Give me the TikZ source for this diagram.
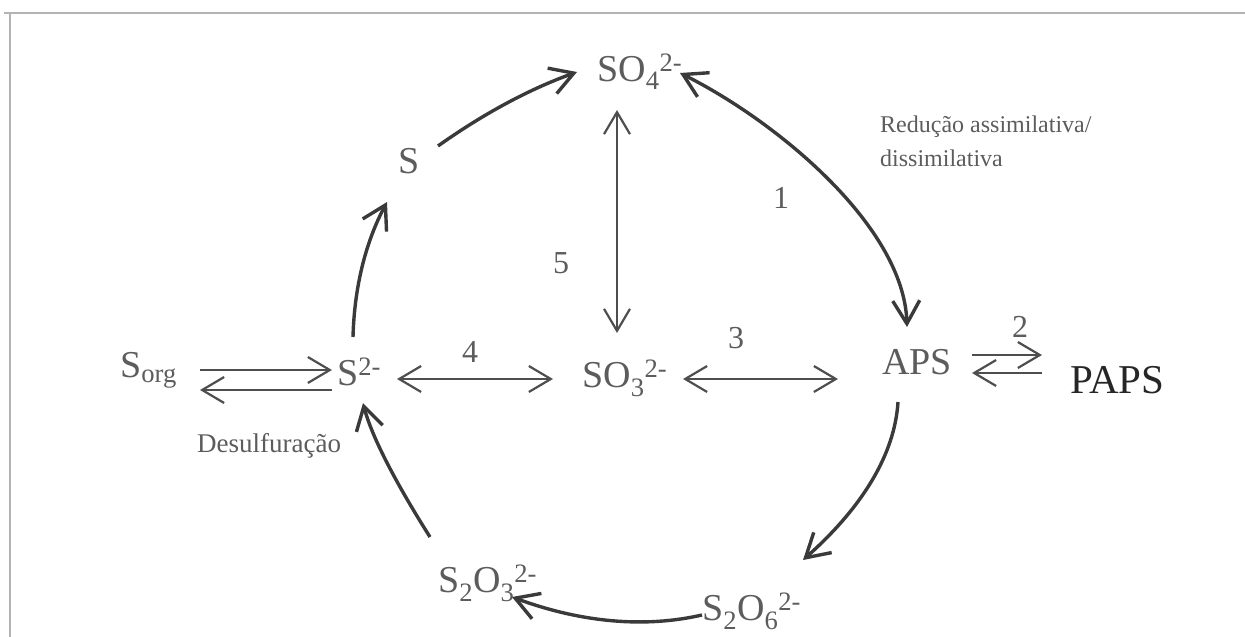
\documentclass[tikz,border=0pt]{standalone}
\usepackage{fontspec}
\setmainfont{Liberation Serif}
\usetikzlibrary{arrows.meta,calc}
\definecolor{txt}{HTML}{5C5C5C}
\definecolor{dark}{HTML}{262626}
\definecolor{arrc}{HTML}{3A3A3A}
\definecolor{linc}{HTML}{4E4E4E}
\definecolor{framec}{HTML}{B4B4B4}
\begin{document}
\begin{tikzpicture}[x=1pt,y=-1pt,
  chem/.style={anchor=base west, inner sep=0pt, text=txt, font=\fontsize{38}{40}\selectfont},
  bigchem/.style={chem, text=dark, font=\fontsize{41}{43}\selectfont},
  num/.style={anchor=base west, inner sep=0pt, text=txt, font=\fontsize{32}{34}\selectfont},
  note/.style={anchor=base west, inner sep=0pt, text=txt, font=\fontsize{24}{26}\selectfont},
  frameline/.style={draw=framec, line width=2pt},
  cyc/.style={draw=arrc, line width=3.4pt, -{Straight Barb[length=23pt,width=27pt]}},
  cycboth/.style={draw=arrc, line width=3.4pt, {Straight Barb[length=23pt,width=27pt]}-{Straight Barb[length=23pt,width=27pt]}},
  lin/.style={draw=linc, line width=2.2pt, -{Straight Barb[length=22pt,width=26pt]}},
  linboth/.style={draw=linc, line width=2.2pt, {Straight Barb[length=22pt,width=26pt]}-{Straight Barb[length=22pt,width=26pt]}}
]
\useasboundingbox (0,0) rectangle (1245,637);
% page frame
\draw[frameline] (4,13) -- (1245,13);
\draw[frameline] (10,13) -- (10,637);

% species of the sulfur cycle
\node[chem] (SO4) at (597,81) {SO\textsubscript{4}\textsuperscript{2-}};
\node[chem] (S) at (398,173) {S};
\node[chem] (Sorg) at (120,377) {S\textsubscript{org}};
\node[chem] (S2m) at (337,385) {S\textsuperscript{2-}};
\node[chem] (SO3) at (582,387) {SO\textsubscript{3}\textsuperscript{2-}};
\node[chem] (APS) at (882,374) {APS};
\node[bigchem] (PAPS) at (1070,393) {PAPS};
\node[chem] (S2O6) at (702,620) {S\textsubscript{2}O\textsubscript{6}\textsuperscript{2-}};
\node[chem] (S2O3) at (438,592) {S\textsubscript{2}O\textsubscript{3}\textsuperscript{2-}};

% reaction numbers and notes
\node[num] (n1) at (773,208) {1};
\node[num] (n2) at (1012,337) {2};
\node[num] (n3) at (728,348) {3};
\node[num] (n4) at (462,362) {4};
\node[num] (n5) at (553,273) {5};
\node[note] (red1) at (880,132) {Redução assimilativa/};
\node[note] (red2) at (880,166) {dissimilativa};
\node[note,font=\fontsize{27}{29}\selectfont] (desulf) at (197,452) {Desulfuração};

% outer cycle
\draw[cyc] ($(S2m.base west)+(16,-48)$) .. controls +(1.3,-50) and +(-21.3,40) .. ($(S.base west)+(-11,29)$);
\draw[cyc] ($(S.base west)+(40,-27)$) .. controls +(46,-32.7) and +(-46.7,16.7) .. ($(SO4.base west)+(-20,-9)$);
\draw[cycboth] ($(SO4.base west)+(83,-8)$) .. controls +(98,49) and +(-3,-100) .. ($(APS.base west)+(25,-47)$);
\draw[cyc] ($(APS.base west)+(16,28)$) .. controls +(-3.3,52) and +(60,-53.3) .. ($(S2O6.base west)+(101,-60)$);
\draw[cyc] ($(S2O6.base west)+(0,-5)$) .. controls +(-58,13.3) and +(68.7,25.3) .. ($(S2O3.base west)+(74,5)$);
\draw[cyc] ($(S2O3.base west)+(-8,-55)$) .. controls +(-36.7,-58) and +(8,31.3) .. ($(S2m.base west)+(26,18)$);

% inner exchanges
\draw[linboth] ($(SO4.base west)+(20,29)$) -- ($(SO3.base west)+(35,-54)$);
\draw[linboth] ($(S2m.base west)+(60,-6)$) -- ($(SO3.base west)+(-29,-8)$);
\draw[linboth] ($(SO3.base west)+(101,-8)$) -- ($(APS.base west)+(-44,5)$);

% reversible steps
\draw[lin] ($(Sorg.base west)+(80,-7)$) -- ($(S2m.base west)+(-5,-15)$);
\draw[lin] ($(S2m.base west)+(-5,5)$) -- ($(Sorg.base west)+(80,13)$);
\draw[lin] ($(APS.base west)+(90,-19)$) -- ($(PAPS.base west)+(-28,-38)$);
\draw[lin] ($(PAPS.base west)+(-28,-20)$) -- ($(APS.base west)+(90,-1)$);
\end{tikzpicture}
\end{document}
